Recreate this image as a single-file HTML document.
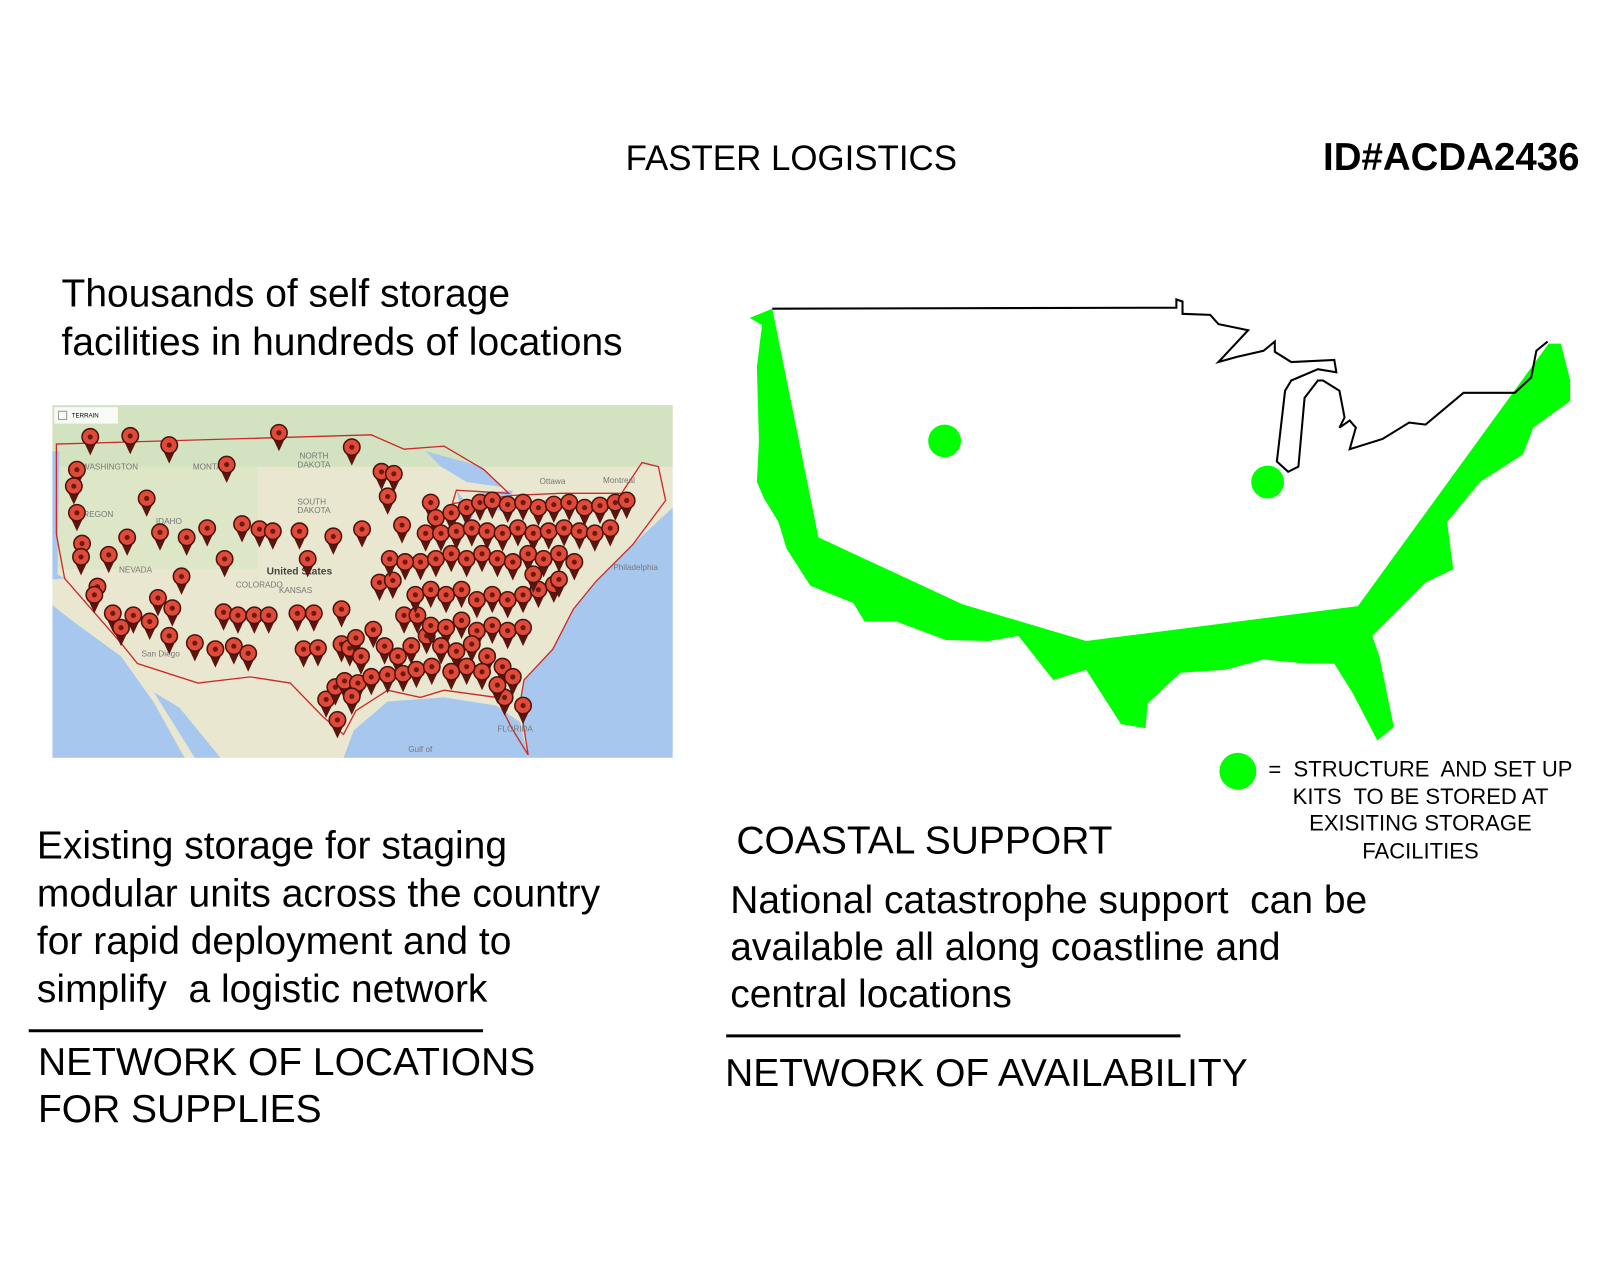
<!DOCTYPE html>
<html><head><meta charset="utf-8"><style>
html,body{margin:0;padding:0;background:#fff;}
body{width:1600px;height:1280px;position:relative;overflow:hidden;font-family:"Liberation Sans",Arial,sans-serif;color:#000;}
#w{position:absolute;left:0;top:0;width:1560px;height:1248px;transform:scale(1.0256);transform-origin:0 0;}
.t{position:absolute;white-space:nowrap;line-height:1;}
</style></head><body><div id="w">
<svg width="1560" height="1248" style="position:absolute;left:0;top:0">
<defs>
<g id="p"><path d="M-7,3 L0,18 L7,3 Z" fill="#5a150e"/><circle cx="0" cy="0" r="8" fill="#e04a38" stroke="#4a120c" stroke-width="1.5"/><circle cx="0" cy="0" r="2.5" fill="#6a1a12"/></g>
<clipPath id="mc"><rect x="51" y="395" width="605" height="344"/></clipPath>
</defs>
<g clip-path="url(#mc)">
<rect x="51" y="395" width="605" height="344" fill="#e9e7cf"/>
<rect x="51" y="395" width="605" height="60" fill="#d3e2c0"/>
<rect x="51" y="455" width="200" height="100" fill="#dde6c6"/>
<polygon points="51,440 58,440 56,560 63,564 51,565" fill="#a8c7ee"/>
<polygon points="51,590 70,605 118,640 150,685 180,739 51,739" fill="#a8c7ee"/>
<polygon points="150,675 175,690 215,739 190,739" fill="#a8c7ee"/>
<polygon points="335,739 345,712 378,684 433,680 484,688 507,704 515,739" fill="#a8c7ee"/>
<polygon points="515,739 507,690 512,663 539,633 559,594 581,567 617,531 645,505 656,495 656,739" fill="#a8c7ee"/>
<polygon points="415,440 470,455 490,475 455,470 430,455" fill="#a8c7ee"/>
<polygon points="445,478 455,520 462,500" fill="#a8c7ee"/>
<polygon points="470,480 500,478 495,500 475,495" fill="#a8c7ee"/>
<polygon points="500,492 540,486 525,500" fill="#a8c7ee"/>
<polygon points="55,433 362,424 394,438 433,435 472,458 496,481 445,478 441,491 500,483 547,481 606,481 626,451 642,455 649,488 617,531 581,567 559,594 539,633 511,663 507,686 515,736 499,710 484,680 433,673 410,680 378,673 347,693 335,716 315,699 283,666 244,660 193,666 134,647 118,627 63,564 55,521" fill="none" stroke="#cc2a2a" stroke-width="1.3"/>
<rect x="53" y="397" width="62" height="16" fill="#fff" opacity="0.85"/>
<rect x="57" y="401" width="8" height="8" fill="none" stroke="#999"/>
<text x="70" y="407" font-size="6" font-family="Liberation Sans">TERRAIN</text>
<g font-family="Liberation Sans" font-size="8" fill="#777">
<text x="292" y="447">NORTH</text><text x="290" y="456">DAKOTA</text>
<text x="290" y="492">SOUTH</text><text x="290" y="500">DAKOTA</text>
<text x="188" y="458">MONTANA</text><text x="80" y="458">WASHINGTON</text>
<text x="75" y="504">OREGON</text><text x="152" y="511">IDAHO</text>
<text x="116" y="558">NEVADA</text><text x="230" y="573">COLORADO</text>
<text x="272" y="578">KANSAS</text><text x="526" y="472">Ottawa</text>
<text x="588" y="471">Montreal</text><text x="598" y="556">Philadelphia</text>
<text x="138" y="640">San Diego</text><text x="485" y="713">FLORIDA</text>
<text x="398" y="733">Gulf of</text>
</g>
<text x="260" y="560" font-family="Liberation Sans" font-size="10" font-weight="bold" fill="#444">United States</text>
<g>
<use href="#p" x="88" y="426"/><use href="#p" x="127" y="425"/><use href="#p" x="165" y="434"/><use href="#p" x="221" y="453"/><use href="#p" x="272" y="422"/><use href="#p" x="343" y="436"/>
<use href="#p" x="75" y="458"/><use href="#p" x="72" y="474"/><use href="#p" x="75" y="500"/><use href="#p" x="143" y="486"/><use href="#p" x="80" y="530"/><use href="#p" x="79" y="543"/><use href="#p" x="106" y="541"/><use href="#p" x="156" y="519"/><use href="#p" x="124" y="524"/><use href="#p" x="182" y="524"/><use href="#p" x="202" y="515"/><use href="#p" x="236" y="511"/><use href="#p" x="219" y="545"/><use href="#p" x="253" y="516"/><use href="#p" x="266" y="518"/><use href="#p" x="292" y="518"/><use href="#p" x="325" y="523"/><use href="#p" x="353" y="516"/>
<use href="#p" x="95" y="572"/><use href="#p" x="92" y="580"/><use href="#p" x="110" y="598"/><use href="#p" x="130" y="600"/><use href="#p" x="146" y="606"/><use href="#p" x="118" y="612"/><use href="#p" x="154" y="583"/><use href="#p" x="168" y="593"/><use href="#p" x="177" y="562"/><use href="#p" x="165" y="620"/><use href="#p" x="190" y="627"/><use href="#p" x="210" y="633"/><use href="#p" x="228" y="630"/><use href="#p" x="242" y="637"/><use href="#p" x="218" y="597"/><use href="#p" x="232" y="600"/><use href="#p" x="248" y="600"/><use href="#p" x="262" y="600"/><use href="#p" x="290" y="598"/><use href="#p" x="306" y="598"/><use href="#p" x="333" y="594"/><use href="#p" x="300" y="545"/><use href="#p" x="296" y="633"/><use href="#p" x="310" y="632"/>
<use href="#p" x="370" y="568"/><use href="#p" x="383" y="566"/><use href="#p" x="378" y="484"/><use href="#p" x="372" y="460"/><use href="#p" x="384" y="462"/><use href="#p" x="392" y="512"/><use href="#p" x="394" y="600"/><use href="#p" x="407" y="600"/><use href="#p" x="333" y="628"/><use href="#p" x="341" y="632"/><use href="#p" x="347" y="622"/><use href="#p" x="352" y="640"/><use href="#p" x="364" y="614"/><use href="#p" x="375" y="630"/><use href="#p" x="388" y="640"/><use href="#p" x="401" y="630"/><use href="#p" x="416" y="620"/>
<use href="#p" x="318" y="682"/><use href="#p" x="327" y="670"/><use href="#p" x="336" y="664"/><use href="#p" x="349" y="666"/><use href="#p" x="362" y="660"/><use href="#p" x="378" y="658"/><use href="#p" x="393" y="657"/><use href="#p" x="406" y="653"/><use href="#p" x="421" y="650"/><use href="#p" x="329" y="702"/><use href="#p" x="343" y="679"/>
<use href="#p" x="420" y="490"/><use href="#p" x="425" y="505"/><use href="#p" x="440" y="500"/><use href="#p" x="455" y="495"/><use href="#p" x="468" y="490"/><use href="#p" x="480" y="488"/><use href="#p" x="495" y="492"/><use href="#p" x="510" y="490"/><use href="#p" x="525" y="495"/><use href="#p" x="540" y="492"/><use href="#p" x="555" y="490"/><use href="#p" x="570" y="495"/><use href="#p" x="585" y="493"/><use href="#p" x="600" y="490"/><use href="#p" x="611" y="488"/>
<use href="#p" x="415" y="520"/><use href="#p" x="430" y="520"/><use href="#p" x="445" y="518"/><use href="#p" x="460" y="515"/><use href="#p" x="475" y="518"/><use href="#p" x="490" y="520"/><use href="#p" x="505" y="515"/><use href="#p" x="520" y="520"/><use href="#p" x="535" y="518"/><use href="#p" x="550" y="515"/><use href="#p" x="565" y="518"/><use href="#p" x="580" y="520"/><use href="#p" x="595" y="515"/>
<use href="#p" x="410" y="548"/><use href="#p" x="425" y="545"/><use href="#p" x="440" y="540"/><use href="#p" x="455" y="545"/><use href="#p" x="470" y="540"/><use href="#p" x="485" y="545"/><use href="#p" x="500" y="548"/><use href="#p" x="515" y="540"/><use href="#p" x="530" y="545"/><use href="#p" x="545" y="540"/><use href="#p" x="560" y="548"/>
<use href="#p" x="405" y="580"/><use href="#p" x="420" y="575"/><use href="#p" x="435" y="580"/><use href="#p" x="450" y="575"/><use href="#p" x="465" y="585"/><use href="#p" x="480" y="580"/><use href="#p" x="495" y="585"/><use href="#p" x="510" y="580"/><use href="#p" x="525" y="575"/><use href="#p" x="540" y="570"/>
<use href="#p" x="420" y="610"/><use href="#p" x="435" y="612"/><use href="#p" x="450" y="605"/><use href="#p" x="465" y="615"/><use href="#p" x="480" y="610"/><use href="#p" x="495" y="615"/><use href="#p" x="510" y="612"/>
<use href="#p" x="430" y="630"/><use href="#p" x="445" y="635"/><use href="#p" x="460" y="628"/><use href="#p" x="475" y="640"/><use href="#p" x="490" y="650"/><use href="#p" x="500" y="660"/><use href="#p" x="492" y="680"/><use href="#p" x="510" y="688"/><use href="#p" x="485" y="668"/><use href="#p" x="470" y="655"/><use href="#p" x="440" y="655"/><use href="#p" x="455" y="650"/><use href="#p" x="380" y="545"/><use href="#p" x="395" y="548"/><use href="#p" x="520" y="560"/><use href="#p" x="545" y="565"/>
</g>
</g>
<polygon fill="#00ff00" points="753,301 731,310 743,317 738,358 740,430 738,470 745,486 759,509 767,535 790,571 832,588 843,606 874,606 922,624 964,625 993,620 1027,663 1059,653 1093,706 1117,710 1119,686 1151,656 1195,653 1232,643 1274,647 1301,647 1319,676 1343,722 1359,709 1345,640 1338,620 1390,568 1417,555 1411,509 1443,470 1485,443 1495,417 1531,391 1531,371 1522,335 1510,335 1324,591 1059,625 938,589 798,524"/>
<polyline fill="none" stroke="#000" stroke-width="2" points="753,301 1147,300 1147,292 1153,294 1153,306 1180,307 1188,316 1217,322 1188,353 1206,348 1232,342 1243,333 1243,343 1259,353 1301,351 1303,363 1285,360 1259,371 1253,381 1245,450 1256,460 1266,455 1272,388 1285,371 1290,371 1306,381 1311,407 1306,417 1316,410 1322,417 1316,438 1348,428 1374,412 1390,414 1427,383 1477,383 1493,368 1498,342 1509,333"/>
<circle cx="921" cy="430" r="16" fill="#00ff00"/>
<circle cx="1236" cy="470" r="16" fill="#00ff00"/>
<circle cx="1207" cy="752" r="18" fill="#00ff00"/>
<line x1="28" y1="1005" x2="471" y2="1005" stroke="#000" stroke-width="3"/>
<line x1="708" y1="1010" x2="1151" y2="1010" stroke="#000" stroke-width="3"/>
</svg>
<div class="t" style="left:610px;top:138px;font-size:34px">FASTER LOGISTICS</div>
<div class="t" style="left:1290px;top:135px;font-size:37.5px;font-weight:bold">ID#ACDA2436</div>
<div class="t" style="left:60px;top:264px;font-size:38px;line-height:47px">Thousands of self storage<br>facilities in hundreds of locations</div>
<div class="t" style="left:36px;top:802px;font-size:38px;line-height:46.5px">Existing storage for staging<br>modular units across the country<br>for rapid deployment and to<br>simplify&nbsp; a logistic network</div>
<div class="t" style="left:37px;top:1013px;font-size:38px;line-height:46px">NETWORK OF LOCATIONS<br>FOR SUPPLIES</div>
<div class="t" style="left:718px;top:801px;font-size:38px">COASTAL SUPPORT</div>
<div class="t" style="left:712px;top:855px;font-size:38px;line-height:46px">National catastrophe support&nbsp; can be<br>available all along coastline and<br>central locations</div>
<div class="t" style="left:707px;top:1028px;font-size:38px">NETWORK OF AVAILABILITY</div>
<div class="t" style="left:1225px;width:320px;top:737px;font-size:21.5px;line-height:26.5px;text-align:center">=&nbsp;&nbsp;STRUCTURE&nbsp; AND SET UP<br>KITS&nbsp; TO BE STORED AT<br>EXISITING STORAGE<br>FACILITIES</div>
</div></body></html>
